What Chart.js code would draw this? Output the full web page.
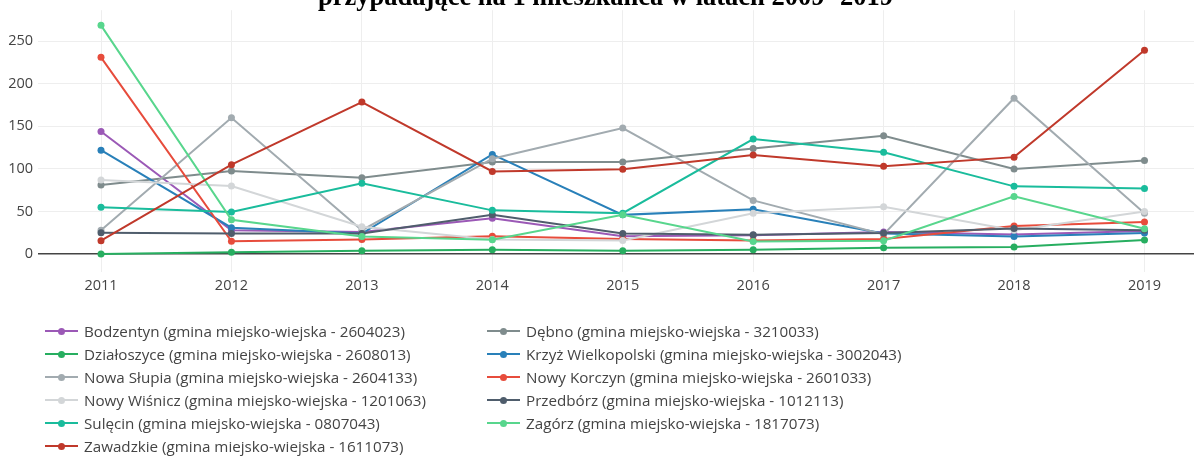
<!DOCTYPE html>
<html lang="pl">
<head>
<meta charset="utf-8">
<title>Wydatki na 1 mieszkańca 2011–2019</title>
<script src="https://cdn.jsdelivr.net/npm/chart.js@4.4.1/dist/chart.umd.min.js"></script>
<style>
  html, body { margin: 0; padding: 0; background: #fff; overflow: hidden; }
  #wrap { position: relative; width: 1194px; height: 456px; overflow: hidden; }
  #chart { position: absolute; left: 0; top: -21px; }
  #legend { position: absolute; left: 0; top: 0; width: 1194px; height: 456px; pointer-events: none;
            font-family: "Open Sans", sans-serif; font-size: 15.2px; color: #444; }
  .item { position: absolute; height: 20px; display: flex; align-items: center; white-space: nowrap; }
  .swatch { position: relative; width: 33px; height: 20px; margin-right: 6px; }
  .swatch .ln { position: absolute; left: 0; right: 0; top: 9px; height: 2px; }
  .swatch .pt { position: absolute; left: 13px; top: 6.5px; width: 7px; height: 7px; border-radius: 50%; }
</style>
</head>
<body>
<div id="wrap">
  <canvas id="chart" width="1211" height="323"></canvas>
  <div id="legend"></div>
</div>
<script>
// Years on the horizontal axis
const years = [2011, 2012, 2013, 2014, 2015, 2016, 2017, 2018, 2019];
const yTicks = [0, 50, 100, 150, 200, 250];
const titleText = 'przypadające na 1 mieszkańca w latach 2009- 2019';

// Series: one per commune
const bodzentyn   = [144, 28, 26, 42, 21, 22, 26, 23, 27];
const debno       = [81, 97.5, 89.5, 108, 108, 124, 139, 100, 110];
const dzialoszyce = [0, 2, 4, 5, 4, 5, 7.4, 8.4, 16.4];
const krzyz       = [122, 31, 24, 117, 46, 52.5, 24, 20.7, 24.7];
const nowaSlupia  = [28, 160, 28, 112, 148, 63, 23, 183, 48];
const nowyKorczyn = [231, 15, 17, 21, 17.6, 16, 17.6, 33, 37.6];
const nowyWisnicz = [87, 80, 32, 17, 16, 48, 55.5, 28, 50];
const przedborz   = [25, 24, 24, 46, 24, 22.7, 24.6, 30, 28];
const sulecin     = [55, 49.3, 83, 51.3, 48, 135, 119.5, 79.5, 77];
const zagorz      = [268.6, 40.3, 20.7, 16.8, 46, 14.8, 15.6, 67.7, 29.7];
const zawadzkie   = [15.7, 105, 178.5, 97, 99.6, 116.4, 103, 113.8, 239.3];

const seriesNames = [
  'Bodzentyn (gmina miejsko-wiejska - 2604023)',
  'Dębno (gmina miejsko-wiejska - 3210033)',
  'Działoszyce (gmina miejsko-wiejska - 2608013)',
  'Krzyż Wielkopolski (gmina miejsko-wiejska - 3002043)',
  'Nowa Słupia (gmina miejsko-wiejska - 2604133)',
  'Nowy Korczyn (gmina miejsko-wiejska - 2601033)',
  'Nowy Wiśnicz (gmina miejsko-wiejska - 1201063)',
  'Przedbórz (gmina miejsko-wiejska - 1012113)',
  'Sulęcin (gmina miejsko-wiejska - 0807043)',
  'Zagórz (gmina miejsko-wiejska - 1817073)',
  'Zawadzkie (gmina miejsko-wiejska - 1611073)'
];
const seriesValues = [bodzentyn, debno, dzialoszyce, krzyz, nowaSlupia, nowyKorczyn,
                      nowyWisnicz, przedborz, sulecin, zagorz, zawadzkie];
const seriesColors = ['#9b59b6', '#7f8c8d', '#27ae60', '#2980b9', '#a2abb0', '#e74c3c',
                      '#d3d6d8', '#4f5d6c', '#1abc9c', '#58d68d', '#c0392b'];

const n = seriesNames.length;
const datasets = seriesNames.map((name, i) => ({
  label: name,
  data: years.map((yr, k) => ({ x: yr, y: seriesValues[i][k] })),
  borderColor: seriesColors[i],
  backgroundColor: seriesColors[i],
  borderWidth: 2,
  pointRadius: 3.5,
  pointBorderWidth: 0,
  pointHoverRadius: 3.5,
  tension: 0,
  order: n - i   // later series are painted on top
}));

const tickFont = { family: '"Open Sans", sans-serif', size: 14.5 };

new Chart(document.getElementById('chart'), {
  type: 'line',
  data: { datasets },
  options: {
    responsive: false,
    animation: false,
    layout: { padding: 0 },
    plugins: {
      legend: { display: false },
      tooltip: { enabled: false },
      title: {
        display: true,
        text: titleText,
        color: '#000',
        font: { family: '"Liberation Serif", "Times New Roman", serif', size: 26.5, weight: 'bold', lineHeight: '31.2px' },
        padding: { top: 4, bottom: -4 }
      }
    },
    scales: {
      x: {
        type: 'linear',
        min: 2010.517,
        max: 2019.483,
        afterBuildTicks: s => { s.ticks = years.map(v => ({ value: v })); },
        afterFit: s => { s.height = 30; },
        border: { display: false },
        grid: { color: '#eeeeee', lineWidth: 1, drawTicks: false },
        ticks: { color: '#444', font: tickFont, padding: 5, maxRotation: 0,
                 callback: v => String(v) }
      },
      y: {
        type: 'linear',
        min: -21.1,
        max: 286.4,
        afterBuildTicks: s => { s.ticks = yTicks.map(v => ({ value: v })); },
        afterFit: s => { s.width = 38; },
        border: { display: false },
        grid: {
          drawTicks: false,
          color: c => (c.tick && c.tick.value === 0) ? '#444' : '#eeeeee',
          lineWidth: c => (c.tick && c.tick.value === 0) ? 1.5 : 1
        },
        ticks: { color: '#444', font: tickFont, padding: 5, callback: v => String(v) }
      }
    }
  }
});

// Two-column legend under the plot
const legend = document.getElementById('legend');
seriesNames.forEach((name, i) => {
  const col = i % 2, row = Math.floor(i / 2);
  const item = document.createElement('div');
  item.className = 'item';
  item.style.left = (col === 0 ? 45 : 487) + 'px';
  item.style.top = (321 + row * 23) + 'px';
  const sw = document.createElement('span');
  sw.className = 'swatch';
  const ln = document.createElement('span');
  ln.className = 'ln';
  ln.style.background = seriesColors[i];
  const pt = document.createElement('span');
  pt.className = 'pt';
  pt.style.background = seriesColors[i];
  sw.appendChild(ln); sw.appendChild(pt);
  const tx = document.createElement('span');
  tx.textContent = name;
  item.appendChild(sw); item.appendChild(tx);
  legend.appendChild(item);
});
</script>
</body>
</html>
